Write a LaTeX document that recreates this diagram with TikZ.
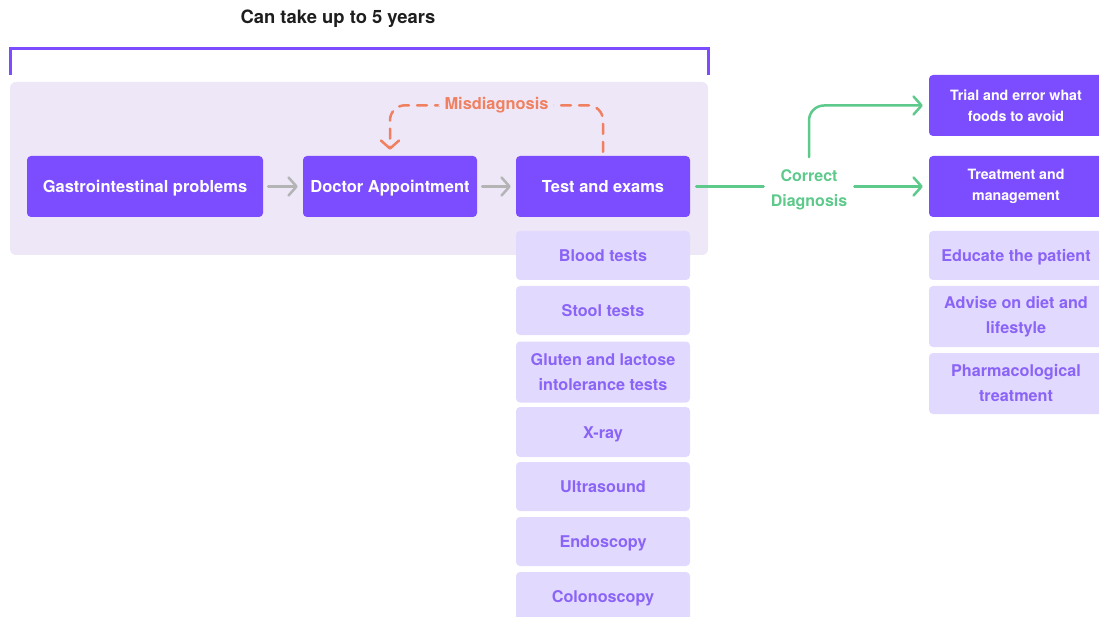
\documentclass[tikz,border=0pt]{standalone}
\usepackage{fontspec}
\setmainfont{TeX Gyre Heros}
\usetikzlibrary{arrows.meta}
\definecolor{mainviolet}{RGB}{124,77,255}
\definecolor{panelfill}{RGB}{238,231,248}
\definecolor{subfill}{RGB}{226,217,255}
\definecolor{subtext}{RGB}{138,99,247}
\definecolor{misorange}{RGB}{240,128,96}
\definecolor{okgreen}{RGB}{93,201,139}
\definecolor{flowgray}{RGB}{180,180,180}
\definecolor{titleink}{RGB}{30,30,30}
\begin{document}
\begin{tikzpicture}[x=1pt,y=-1pt,
  mainbox/.style={fill=mainviolet, rounded corners=4pt, text=white,
    font=\bfseries\fontsize{16.5}{20}\selectfont, minimum height=61pt,
    minimum width=174pt, align=center, inner sep=0pt},
  sidebox/.style={mainbox, font=\bfseries\fontsize{14.2}{21}\selectfont},
  subbox/.style={fill=subfill, rounded corners=4pt, text=subtext,
    font=\bfseries\fontsize{16.2}{25}\selectfont, minimum height=49pt,
    minimum width=174pt, align=center, inner sep=0pt},
  oneline/.style={text height=12pt, text depth=0pt},
  chevron/.style={-{Straight Barb[length=8pt,width=18pt,round]}},
  flow/.style={draw=flowgray, line width=2.5pt, line cap=round, chevron,
    shorten <=5pt, shorten >=5pt},
  misline/.style={draw=misorange, line width=2.5pt, line cap=round,
    dash pattern=on 10pt off 8pt, rounded corners=15pt, chevron},
  okline/.style={draw=okgreen, line width=2.5pt, line cap=round},
  okarrow/.style={okline, chevron, shorten >=6pt}]
\useasboundingbox (0,0) rectangle (1099,617);
\clip (0,0) rectangle (1099,617);

% title and time bracket
\node[font=\bfseries\fontsize{18.4}{22}\selectfont, text=titleink] (title) at (338,19) {Can take up to 5 years};
\draw[mainviolet, line width=3pt] (10,75) -- (10,49) -- (708,49) -- (708,75);

% shaded span of the diagnostic journey
\fill[panelfill, rounded corners=6pt] (10,82) rectangle (708,255);

% main flow
\node[mainbox, oneline, minimum width=236pt] (gi) at (145,186.5) {Gastrointestinal problems};
\node[mainbox, oneline] (doc) at (390,186.5) {Doctor Appointment};
\node[mainbox, oneline] (test) at (603,186.5) {Test and exams};
\draw[flow] (gi) -- (doc);
\draw[flow] (doc) -- (test);

% misdiagnosis loop
\draw[misline, shorten <=4pt, shorten >=6pt] (test.north) -- ++(0,-50.5) -| (doc.north)
  node[pos=0.25, fill=panelfill, text=misorange, inner xsep=6pt, inner ysep=2pt,
       font=\bfseries\fontsize{16.4}{18}\selectfont] (mis) {Misdiagnosis};

% tests
\node[subbox, oneline] (blood) at (603,255.5) {Blood tests};
\node[subbox, oneline] (stool) at (603,310.5) {Stool tests};
\node[subbox, minimum height=61pt] (gluten) at (603,372) {Gluten and lactose\\intolerance tests};
\node[subbox, oneline, minimum height=50pt] (xray) at (603,432) {X-ray};
\node[subbox, oneline] (ultra) at (603,486.5) {Ultrasound};
\node[subbox, oneline] (endo) at (603,541.5) {Endoscopy};
\node[subbox, oneline] (colon) at (603,596.5) {Colonoscopy};

% correct diagnosis branch
\node[text=okgreen, font=\bfseries\fontsize{16}{25}\selectfont, align=center,
      inner xsep=7pt, inner ysep=0pt] (cd) at (809,189.5) {Correct\\Diagnosis};
\node[sidebox] (trial) at (1016,105.5) {Trial and error what\\foods to avoid};
\node[sidebox] (treat) at (1016,186.5) {Treatment and\\management};
\draw[okline, shorten <=6pt] (test.east) -- (test.east -| cd.west);
\draw[okarrow] (cd.east |- treat.west) -- (treat.west);
\draw[okarrow, rounded corners=15pt, shorten <=12pt] (cd.north) |- (trial.west);

% management steps
\node[subbox, oneline] (educ) at (1016,255.5) {Educate the patient};
\node[subbox, minimum height=61pt] (advise) at (1016,316.5) {Advise on diet and\\lifestyle};
\node[subbox, minimum height=61pt] (pharma) at (1016,383.5) {Pharmacological\\treatment};
\end{tikzpicture}
\end{document}
